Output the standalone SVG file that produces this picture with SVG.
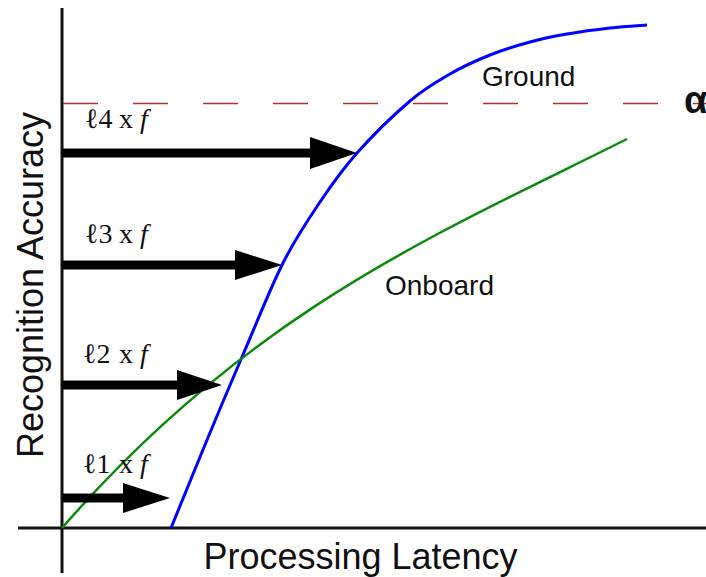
<svg xmlns="http://www.w3.org/2000/svg" width="706" height="577" viewBox="0 0 706 577">
<style>
.axis{stroke:#111;stroke-width:3;fill:none}
.arrow{fill:#000}
.shaft{stroke:#000;stroke-width:9}
.lbl{font-family:"Liberation Serif","DejaVu Serif",serif;font-size:28px;fill:#111}
.it{font-style:italic}
.sans{font-family:"Liberation Sans",Arial,sans-serif;fill:#111}
</style>
<rect width="706" height="577" fill="#fff"/>
<g id="axes">
<line class="axis" x1="62" y1="8" x2="62" y2="573"/>
<line class="axis" x1="18" y1="528" x2="706" y2="528"/>
<text class="sans" font-size="36" text-anchor="middle" x="360.5" y="569">Processing Latency</text>
<text class="sans" font-size="36" text-anchor="middle" transform="translate(43,285) rotate(-90)">Recognition Accuracy</text>
</g>
<g id="threshold">
<line x1="63" y1="103.5" x2="706" y2="103.5" stroke="#b03030" stroke-width="1.6" stroke-dasharray="35 35"/>
<text class="sans" font-size="38" font-weight="bold" x="684" y="113">α</text>
</g>
<g id="ground">
<path d="M171,528 C177,513.3 195.2,468.5 207,440 C218.8,411.5 229.3,386.5 242,357 C254.7,327.5 270,288.8 283,263 C296,237.2 307.7,220.3 320,202 C332.3,183.7 342,169.8 357,153 C372,136.2 394.5,114.2 410,101 C425.5,87.8 436.7,81.7 450,74 C463.3,66.3 476.7,60.3 490,55 C503.3,49.7 517.2,45.5 530,42 C542.8,38.5 553.7,36.3 567,34 C580.3,31.7 596.7,29.5 610,28 C623.3,26.5 640.8,25.5 647,25" fill="none" stroke="#0000ff" stroke-width="3"/>
<text class="sans" font-size="28" x="482" y="86">Ground</text>
</g>
<g id="onboard">
<path d="M62,528 C252,310 437,234 627,139" fill="none" stroke="#0a8a0a" stroke-width="2.5"/>
<text class="sans" font-size="28" x="385" y="295">Onboard</text>
</g>
<g id="connectors">
<g id="arrow4">
<line class="shaft" x1="62" y1="153" x2="312" y2="153"/>
<polygon class="arrow" points="310,137 357,153 310,169"/>
</g>
<g id="arrow3">
<line class="shaft" x1="62" y1="265" x2="237" y2="265"/>
<polygon class="arrow" points="235,250 282,265 235,280"/>
</g>
<g id="arrow2">
<line class="shaft" x1="62" y1="385" x2="179" y2="385"/>
<polygon class="arrow" points="177,370 222,385 177,400"/>
</g>
<g id="arrow1">
<line class="shaft" x1="62" y1="498" x2="125" y2="498"/>
<polygon class="arrow" points="123,483 170,498 123,513"/>
</g>
</g>
<g id="label4"><text class="lbl" y="128"><tspan x="85">ℓ4</tspan><tspan x="119">x</tspan><tspan x="140" class="it">f</tspan></text></g>
<g id="label3"><text class="lbl" y="243"><tspan x="85">ℓ3</tspan><tspan x="119">x</tspan><tspan x="140" class="it">f</tspan></text></g>
<g id="label2"><text class="lbl" y="363"><tspan x="83">ℓ2</tspan><tspan x="119">x</tspan><tspan x="140" class="it">f</tspan></text></g>
<g id="label1"><text class="lbl" y="473"><tspan x="83">ℓ1</tspan><tspan x="119">x</tspan><tspan x="140" class="it">f</tspan></text></g>
</svg>
